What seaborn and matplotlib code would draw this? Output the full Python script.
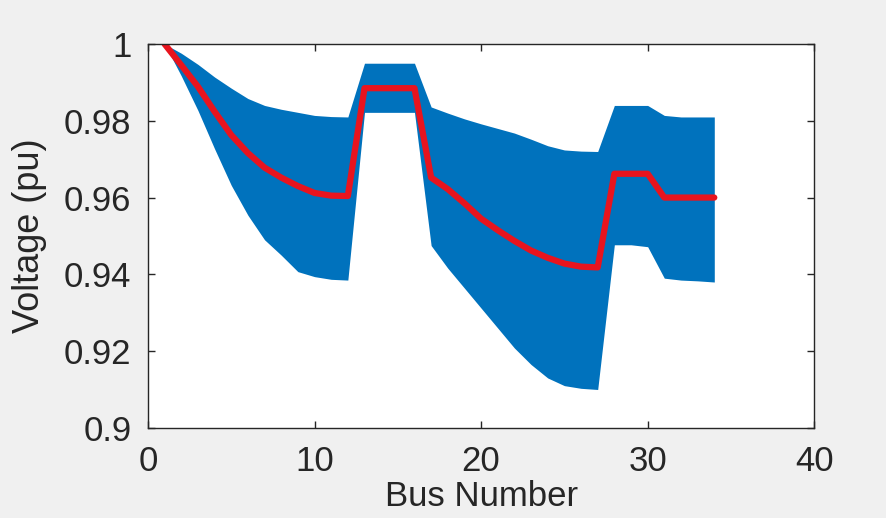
import numpy as np
import pandas as pd
import matplotlib
matplotlib.use("Agg")
import matplotlib.pyplot as plt
import seaborn as sns

# Bus voltages
bus = list(range(1, 35))
v_upper = [1.0, 0.9976, 0.9947, 0.9914, 0.9885, 0.9858, 0.9840, 0.9830, 0.9822, 0.9814, 0.9811, 0.9810,
           0.9950, 0.9950, 0.9950, 0.9950,
           0.9836, 0.9820, 0.9805, 0.9792, 0.9780, 0.9768, 0.9752, 0.9735, 0.9724, 0.9721, 0.9720,
           0.9840, 0.9840, 0.9840, 0.9814, 0.9810, 0.9810, 0.9810]
v_lower = [1.0, 0.9917, 0.9827, 0.9727, 0.9632, 0.9554, 0.9490, 0.9450, 0.9407, 0.9394, 0.9387, 0.9385,
           0.9822, 0.9822, 0.9822, 0.9822,
           0.9475, 0.9416, 0.9364, 0.9312, 0.9260, 0.9208, 0.9165, 0.9130, 0.9110, 0.9103, 0.9100,
           0.9477, 0.9477, 0.9472, 0.9390, 0.9385, 0.9383, 0.9380]
v_mean = [1.0, 0.9945, 0.9889, 0.9824, 0.9763, 0.9716, 0.9678, 0.9652, 0.9630, 0.9612, 0.9605, 0.9604,
          0.9885, 0.9885, 0.9885, 0.9885,
          0.9652, 0.9622, 0.9585, 0.9545, 0.9515, 0.9487, 0.9462, 0.9443, 0.9428, 0.9420, 0.9418,
          0.9662, 0.9662, 0.9662, 0.9600, 0.9600, 0.9600, 0.9600]

x_ticks = [0, 10, 20, 30, 40]
y_ticks = [0.9, 0.92, 0.94, 0.96, 0.98, 1.0]
y_tick_labels = ["0.9", "0.92", "0.94", "0.96", "0.98", "1"]

df = pd.DataFrame({"Bus": bus, "Mean": v_mean, "Lower": v_lower, "Upper": v_upper})

sns.set_style("ticks")
plt.rcParams["font.family"] = ["Liberation Sans", "DejaVu Sans"]

fig = plt.figure(figsize=(8.86, 5.18), dpi=100, facecolor="#f0f0f0")
ax = fig.add_axes([0.167, 0.174, 0.752, 0.741])
ax.set_facecolor("white")

ax.fill_between(df["Bus"], df["Lower"], df["Upper"], color="#0072BD", linewidth=0)
sns.lineplot(data=df, x="Bus", y="Mean", color="#e8141e", linewidth=4.5, ax=ax)

ax.set_xlim(0, 40)
ax.set_ylim(0.9, 1.0)
ax.set_xticks(x_ticks)
ax.set_yticks(y_ticks)
ax.set_yticklabels(y_tick_labels)
ax.tick_params(direction="in", top=True, right=True, labelsize=25, length=5,
               width=1, colors="#262626")
ax.tick_params(axis="x", pad=12)
ax.tick_params(axis="y", pad=12)
for s in ax.spines.values():
    s.set_color("#262626")
    s.set_linewidth(1)

ax.set_xlabel("Bus Number", fontsize=25, color="#262626", labelpad=2)
ax.set_ylabel("Voltage (pu)", fontsize=26, color="#262626", labelpad=12)

fig.savefig("out.png", dpi=100, facecolor=fig.get_facecolor())
